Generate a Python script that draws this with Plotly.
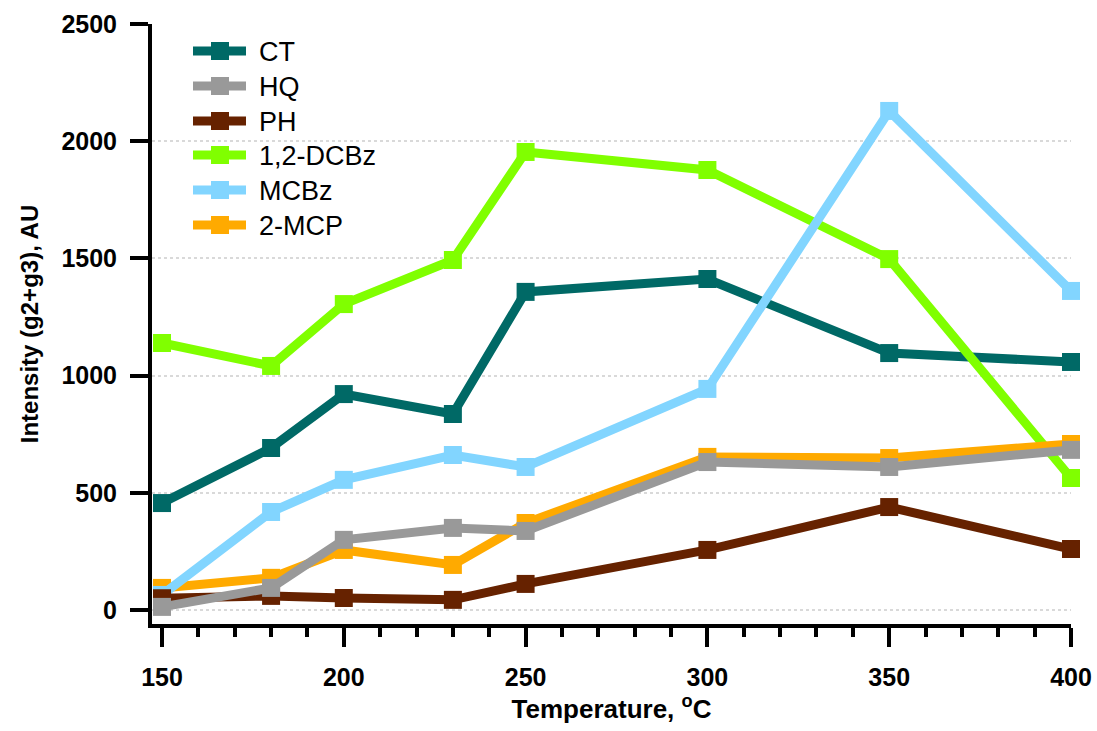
import plotly.graph_objects as go

temperature = [150, 180, 200, 230, 250, 300, 350, 400]

ct = [456, 691, 921, 836, 1357, 1412, 1096, 1058]
hq = [13, 94, 299, 350, 337, 631, 610, 683]
ph = [50, 60, 51, 43, 111, 256, 439, 260]
dcbz = [1139, 1041, 1305, 1493, 1954, 1877, 1497, 563]
mcbz = [64, 418, 555, 661, 610, 943, 2129, 1361]
mcp = [94, 137, 256, 192, 371, 653, 648, 708]

x_ticks = [150, 200, 250, 300, 350, 400]
y_ticks = [0, 500, 1000, 1500, 2000, 2500]

colors = {
    "CT": "#006966",
    "HQ": "#999999",
    "PH": "#662200",
    "1,2-DCBz": "#80FF00",
    "MCBz": "#82D5FF",
    "2-MCP": "#FFAA00",
}
values = {"CT": ct, "HQ": hq, "PH": ph, "1,2-DCBz": dcbz, "MCBz": mcbz, "2-MCP": mcp}
legend_order = ["CT", "HQ", "PH", "1,2-DCBz", "MCBz", "2-MCP"]
draw_order = ["CT", "1,2-DCBz", "2-MCP", "MCBz", "PH", "HQ"]

fig = go.Figure()
for name in draw_order:
    c = colors[name]
    fig.add_trace(go.Scatter(
        x=temperature, y=values[name], name=name, mode="lines+markers",
        line=dict(color=c, width=9),
        marker=dict(symbol="square", size=18, color=c),
        cliponaxis=False, showlegend=False,
    ))

font_family = "Liberation Sans, Arial, sans-serif"

# plot-area geometry in pixels (for placing the hand-made legend)
W, H = 1097, 731
ML, MR, MT, MB = 152, 26, 24, 107
PW, PH_ = W - ML - MR, H - MT - MB


def px_x(p):
    return (p - ML) / PW


def px_y(p):
    return 1 - (p - MT) / PH_


shapes = []
annotations = []
row_y = [51, 86, 121, 155, 190, 225]
for name, yc in zip(legend_order, row_y):
    c = colors[name]
    shapes.append(dict(type="line", xref="paper", yref="paper",
                       x0=px_x(193), x1=px_x(246), y0=px_y(yc), y1=px_y(yc),
                       line=dict(color=c, width=9)))
    shapes.append(dict(type="rect", xref="paper", yref="paper",
                       x0=px_x(211), x1=px_x(229), y0=px_y(yc - 9), y1=px_y(yc + 9),
                       line=dict(width=0), fillcolor=c))
    annotations.append(dict(text=name, xref="paper", yref="paper",
                            x=px_x(257), y=px_y(yc + 1), xanchor="left", yanchor="middle",
                            showarrow=False,
                            font=dict(size=27, family=font_family, color="black")))

fig.update_layout(
    width=W, height=H,
    margin=dict(l=ML, r=MR, t=MT, b=MB),
    plot_bgcolor="white", paper_bgcolor="white",
    font=dict(family=font_family, color="black"),
    showlegend=False,
    shapes=shapes,
    annotations=annotations,
    xaxis=dict(
        range=[147.25, 400], tickvals=x_ticks,
        ticktext=[str(v) for v in x_ticks],
        showline=True, linecolor="black", linewidth=4,
        ticks="outside", ticklen=19, tickwidth=4, tickcolor="black",
        ticklabelstandoff=9, automargin=False,
        tickfont=dict(size=25, family=font_family, color="black", weight="bold"),
        minor=dict(dtick=10, tick0=150, ticks="outside", ticklen=9, tickwidth=4,
                   tickcolor="black", showgrid=False),
        showgrid=False, zeroline=False,
        title=dict(text="Temperature, <sup>o</sup>C",
                   font=dict(size=26, family=font_family, color="black", weight="bold"),
                   standoff=4),
    ),
    yaxis=dict(
        range=[-60, 2500], tickvals=y_ticks,
        showline=True, linecolor="black", linewidth=4,
        ticks="outside", ticklen=18, tickwidth=4, tickcolor="black",
        ticklabelstandoff=8, automargin=False,
        tickfont=dict(size=25, family=font_family, color="black", weight="bold"),
        showgrid=True, gridcolor="#D9D9D9", gridwidth=1.5, griddash="dot",
        zeroline=False,
        title=dict(text="Intensity (g2+g3), AU",
                   font=dict(size=24, family=font_family, color="black", weight="bold"),
                   standoff=17),
    ),
)

fig.write_html("out.html")
